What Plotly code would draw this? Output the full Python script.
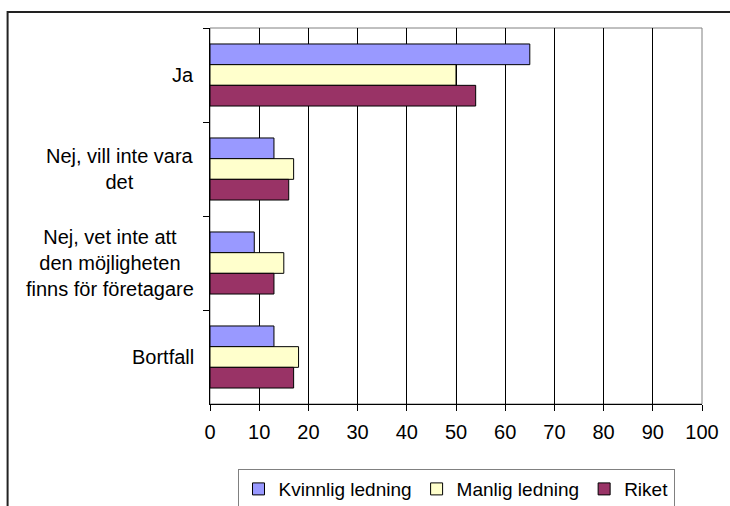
import plotly.graph_objects as go

categories = ['Ja', 'Nej, vill inte vara<br>det',
              'Nej, vet inte att<br>den möjligheten<br>finns för företagare',
              'Bortfall']
kvinnlig = [65, 13, 9, 13]
manlig = [50, 17, 15, 18]
riket = [54, 16, 13, 17]
x_ticks = [0, 10, 20, 30, 40, 50, 60, 70, 80, 90, 100]

FONT = 'Arial, Liberation Sans, sans-serif'

fig = go.Figure()

series = [
    ('Kvinnlig ledning', kvinnlig, '#9999FF'),
    ('Manlig ledning', manlig, '#FFFFCC'),
    ('Riket', riket, '#993366'),
]
for name, vals, col in series:
    fig.add_trace(
        go.Bar(
            y=categories,
            x=vals,
            name=name,
            orientation='h',
            marker=dict(color=col, line=dict(color='black', width=1)),
        )
    )

# category labels, centred lines, right edge next to the axis
for cat in categories:
    fig.add_annotation(
        x=-0.0285, xref='paper', y=cat, yref='y',
        text=cat, showarrow=False,
        xanchor='right', align='center',
        font=dict(family=FONT, size=20, color='black'),
    )

# grey plot-area frame
fig.add_shape(type='rect', xref='paper', yref='paper',
              x0=0, x1=1, y0=0, y1=1,
              line=dict(color='#808080', width=1), layer='below')

# outer chart border (runs off the right and bottom edges)
fig.add_shape(type='rect', xref='paper', yref='paper',
              x0=-0.4114, x1=1.2, y0=-0.4, y1=1.0426,
              line=dict(color='#222222', width=2))

fig.update_layout(
    width=730,
    height=506,
    margin=dict(l=210, r=28, t=28, b=102, autoexpand=False),
    paper_bgcolor='white',
    plot_bgcolor='white',
    barmode='group',
    bargap=0.34,
    bargroupgap=0,
    font=dict(family=FONT, size=20, color='black'),
    showlegend=True,
    legend=dict(
        orientation='h',
        x=0.5, xanchor='center',
        y=-0.173, yanchor='top',
        bordercolor='#808080', borderwidth=1,
        font=dict(family=FONT, size=19, color='black'),
        traceorder='normal',
    ),
)

fig.update_xaxes(
    range=[0, 100],
    tickvals=x_ticks,
    showgrid=True, gridcolor='black', gridwidth=1,
    zeroline=False,
    showline=True, linecolor='black', linewidth=1,
    ticks='outside', ticklen=6, tickcolor='black',
    ticklabelstandoff=4,
    tickfont=dict(family=FONT, size=20),
    automargin=False,
)
fig.update_yaxes(
    autorange='reversed',
    showticklabels=False,
    showgrid=False,
    showline=True, linecolor='black', linewidth=1,
    ticks='outside', ticklen=6, tickcolor='black',
    tickson='boundaries',
    automargin=False,
)

fig.write_html('out.html',
               config={'displayModeBar': False},
               post_script="document.body.style.margin='0';")
